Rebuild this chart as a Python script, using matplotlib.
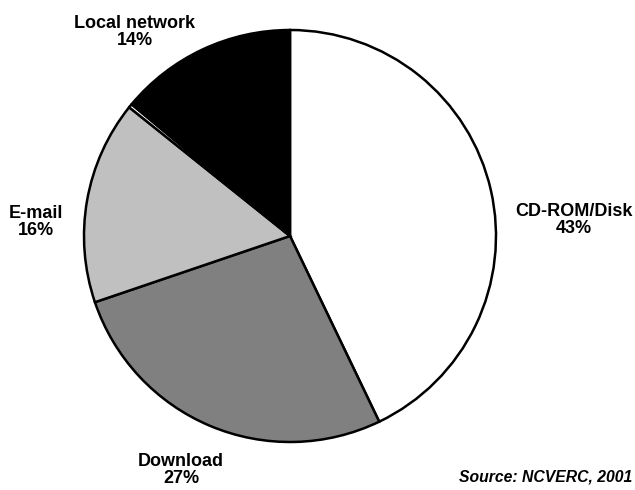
import matplotlib.pyplot as plt

# Share of infections by source
labels = ['CD-ROM/Disk', 'Download', 'E-mail', '', 'Local network']
shares = [43, 27, 16, 0.3, 14]
colors = ['white', '#808080', '#c0c0c0', 'white', 'black']

plt.rcParams['font.family'] = ['Liberation Sans', 'DejaVu Sans']

fig = plt.figure(figsize=(6.35, 4.9), dpi=100)
ax = fig.add_axes([0, 0, 1, 1])

ax.pie(shares, colors=colors, startangle=90, counterclock=False,
       center=(290, 254), radius=206, frame=True,
       wedgeprops=dict(edgecolor='black', linewidth=1.8))
ax.set_xlim(0, 635)
ax.set_ylim(0, 490)
ax.set_aspect('equal')
ax.axis('off')

# category labels placed around the pie
label_pos = {
    'Local network': (135, 458),
    'CD-ROM/Disk': (574, 270),
    'E-mail': (36, 268),
    'Download': (181, 20),
}
for name, pct in zip(labels, shares):
    if name in label_pos:
        x, y = label_pos[name]
        ax.text(x, y, f'{name}\n{pct:.0f}%', ha='center', va='center',
                fontsize=13, fontweight='bold', linespacing=1.05)

ax.text(632, 13, 'Source: NCVERC, 2001', ha='right', va='center',
        fontsize=11.3, fontweight='bold', style='italic')

fig.savefig('out.png', dpi=100)
